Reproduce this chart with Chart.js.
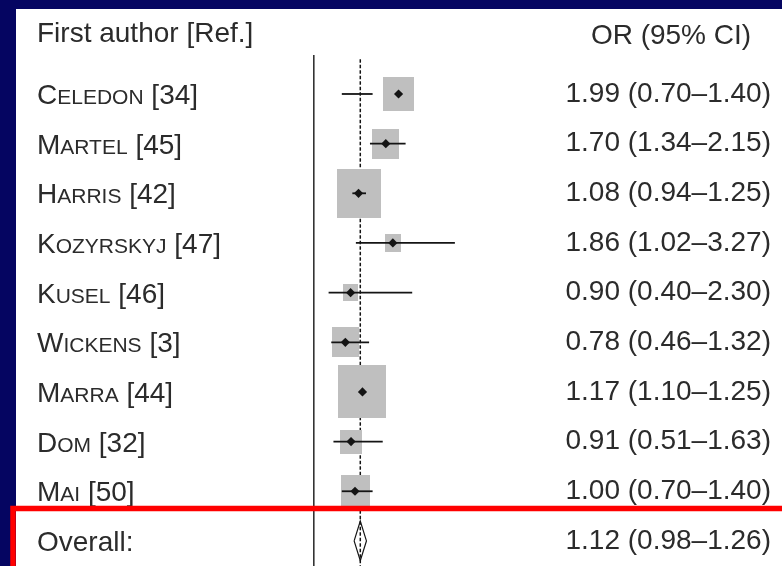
<!DOCTYPE html>
<html>
<head>
<meta charset="utf-8">
<script src="https://cdn.jsdelivr.net/npm/chart.js@4.4.1/dist/chart.umd.min.js"></script>
<style>
  html, body { margin: 0; padding: 0; background: #050561; }
  #wrap { position: relative; width: 782px; height: 566px; overflow: hidden; background: #050561; }
  #panel { position: absolute; left: 16px; top: 9px; right: 0; bottom: 0; background: #ffffff; }
  #forest { position: absolute; left: 0; top: 0; }
</style>
</head>
<body>
<div id="wrap">
  <div id="panel"></div>
  <canvas id="forest" width="782" height="566"></canvas>
</div>
<script>
// Studies included in the meta-analysis
const authors = ['Celedon', 'Martel', 'Harris', 'Kozyrskyj', 'Kusel', 'Wickens', 'Marra', 'Dom', 'Mai'];
const refs    = [34, 45, 42, 47, 46, 3, 44, 32, 50];

// Odds ratios with 95% confidence limits
const oddsRatio = [1.99, 1.70, 1.08, 1.86, 0.90, 0.78, 1.17, 0.91, 1.00];
const ciLower   = [0.70, 1.34, 0.94, 1.02, 0.40, 0.46, 1.10, 0.51, 0.70];
const ciUpper   = [1.40, 2.15, 1.25, 3.27, 2.30, 1.32, 1.25, 1.63, 1.40];

// Study weights (%), shown by the area of each grey box
const weights = [11.1, 8.8, 23.3, 3.1, 2.8, 8.8, 27.0, 5.5, 9.7];

// Pooled estimate
const overallOR    = 1.12;
const overallLower = 0.98;
const overallUpper = 1.26;

// Column headings
const headLeft  = 'First author [Ref.]';
const headRight = 'OR (95% CI)';
const overallName = 'Overall:';

const FAMILY = "'Liberation Sans', Arial, sans-serif";
const TEXT = '#2b2b2b';
const BOX_GREY = '#bfbfbf';
const INK = '#141414';

const fmt = v => v.toFixed(2);
const orLabels = oddsRatio.map((v, i) => `${fmt(v)} (${fmt(ciLower[i])}\u2013${fmt(ciUpper[i])})`)
  .concat(`${fmt(overallOR)} (${fmt(overallLower)}\u2013${fmt(overallUpper)})`);
const overallRow = authors.length;

// Grey weight boxes as small canvases used as point styles
const boxes = weights.map(w => {
  const side = 9.6 * Math.sqrt(w);
  const c = document.createElement('canvas');
  c.width = Math.round(side * 0.96);
  c.height = Math.round(side * 1.06);
  const g = c.getContext('2d');
  g.fillStyle = BOX_GREY;
  g.fillRect(0, 0, c.width, c.height);
  return c;
});

// One horizontal segment per confidence interval
const ciSets = oddsRatio.map((_, i) => ({
  type: 'scatter',
  showLine: true,
  data: [{ x: ciLower[i], y: i }, { x: ciUpper[i], y: i }],
  borderColor: INK,
  borderWidth: 1.8,
  pointRadius: 0,
  order: 3
}));

const textPlugin = {
  id: 'forestText',
  afterDraw(chart) {
    const { ctx, scales: { y } } = chart;
    ctx.save();
    ctx.fillStyle = TEXT;
    ctx.textAlign = 'left';
    ctx.textBaseline = 'alphabetic';
    const big = `28px ${FAMILY}`;
    const small = `21px ${FAMILY}`;
    const x0 = 37;
    authors.forEach((name, i) => {
      const base = y.getPixelForValue(i) + 10;
      let x = x0;
      ctx.font = big;
      ctx.fillText(name[0], x, base);
      x += ctx.measureText(name[0]).width;
      const rest = name.slice(1).toUpperCase();
      ctx.font = small;
      ctx.fillText(rest, x, base);
      x += ctx.measureText(rest).width;
      ctx.font = big;
      ctx.fillText(` [${refs[i]}]`, x, base);
    });
    ctx.font = big;
    ctx.fillText(overallName, x0, y.getPixelForValue(overallRow) + 10);
    ctx.fillText(headLeft, x0, 42);
    ctx.textAlign = 'center';
    ctx.fillText(headRight, 671, 44);

    // red frame around the pooled result
    ctx.strokeStyle = '#ff0000';
    ctx.lineWidth = 5.5;
    ctx.strokeRect(13, 508.5, 900, 200);
    ctx.restore();
  }
};

// keep the row scale free of label padding so rows run to the bottom edge
const noPad = s => { s.paddingTop = 0; s.paddingBottom = 0; };

new Chart(document.getElementById('forest'), {
  type: 'scatter',
  data: {
    datasets: [
      {
        // dashed line at the pooled estimate
        type: 'scatter',
        showLine: true,
        data: [{ x: overallOR, y: -0.70 }, { x: overallOR, y: 9.9 }],
        borderColor: INK,
        borderWidth: 1.5,
        borderDash: [3.5, 2],
        pointRadius: 0,
        order: 5
      },
      {
        // weight boxes
        type: 'scatter',
        data: oddsRatio.map((v, i) => ({ x: v, y: i })),
        pointStyle: ctx => boxes[ctx.dataIndex],
        pointRadius: 1,
        hoverRadius: 0,
        borderWidth: 0,
        order: 4
      },
      ...ciSets,
      {
        // pooled diamond
        type: 'scatter',
        showLine: true,
        data: [
          { x: overallLower, y: overallRow },
          { x: overallOR, y: overallRow - 0.4 },
          { x: overallUpper, y: overallRow },
          { x: overallOR, y: overallRow + 0.4 },
          { x: overallLower, y: overallRow }
        ],
        borderColor: INK,
        borderWidth: 1.2,
        pointRadius: 0,
        tension: 0,
        order: 2
      },
      {
        // point estimates
        type: 'scatter',
        data: oddsRatio.map((v, i) => ({ x: v, y: i })),
        pointStyle: 'rectRot',
        pointRadius: 4.6,
        backgroundColor: INK,
        borderWidth: 0,
        order: 1
      }
    ]
  },
  options: {
    responsive: false,
    animation: false,
    events: [],
    layout: { autoPadding: false, padding: { top: 56, right: 11, bottom: 0, left: 0 } },
    plugins: { legend: { display: false }, tooltip: { enabled: false } },
    scales: {
      x: { type: 'linear', min: 0.068, max: 5.5, display: false },
      y: {
        type: 'linear', position: 'left', min: -0.765, max: 9.505, reverse: true,
        grid: { display: false },
        ticks: { display: false },
        border: { display: true, color: '#333333', width: 1.6 },
        afterFit: s => { s.width = 314; noPad(s); }
      },
      yr: {
        type: 'linear', position: 'right', min: -0.765, max: 9.505, reverse: true,
        grid: { display: false },
        border: { display: false },
        afterBuildTicks: s => { s.ticks = orLabels.map((_, i) => ({ value: i })); },
        ticks: {
          autoSkip: false,
          crossAlign: 'far',
          padding: 0,
          color: TEXT,
          font: { family: FAMILY, size: 28 },
          callback: (v, i) => orLabels[i]
        },
        afterFit: s => { s.width = 218; noPad(s); }
      }
    }
  },
  plugins: [textPlugin]
});
</script>
</body>
</html>
